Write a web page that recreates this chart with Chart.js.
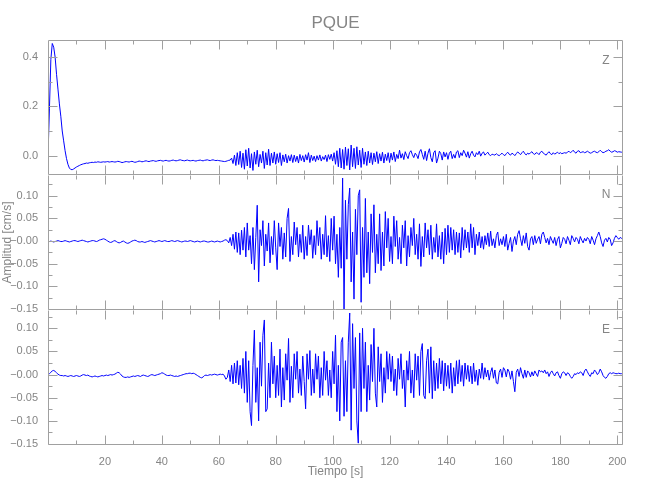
<!DOCTYPE html>
<html>
<head>
<meta charset="utf-8">
<title>PQUE</title>
<script src="https://cdn.jsdelivr.net/npm/chart.js@4"></script>
<style>
  body { margin: 0; background: #fff; }
  #wrap { position: relative; width: 650px; height: 500px; }
  #wrap canvas { position: absolute; left: 0; }
</style>
</head>
<body>
<div id="wrap">
  <canvas id="chZ" width="650" height="200" style="top:0px"></canvas>
  <canvas id="chN" width="650" height="185" style="top:150px"></canvas>
  <canvas id="chE" width="650" height="215" style="top:285px"></canvas>
</div>
<script>
const station = 'PQUE';
const t0 = 0;     // s, first sample
const dt = 0.5;   // s, sample interval of the traces

// velocity, cm/s
const traceZ = [
  0.000, 0.190, 0.390, 0.455, 0.440, 0.400, 0.330, 0.270, 0.210, 0.160, 0.100, 0.060, 0.020, -0.012, -0.035, -0.050, -0.056, -0.057, -0.054, -0.050,
  -0.046, -0.043, -0.040, -0.037, -0.035, -0.033, -0.032, -0.030, -0.031, -0.029, -0.028, -0.027, -0.028, -0.026, -0.027, -0.025, -0.026, -0.027, -0.026, -0.025,
  -0.026, -0.025, -0.024, -0.026, -0.025, -0.024, -0.025, -0.026, -0.025, -0.023, -0.024, -0.026, -0.028, -0.027, -0.025, -0.024, -0.025, -0.026, -0.024, -0.023,
  -0.025, -0.027, -0.026, -0.024, -0.022, -0.023, -0.025, -0.024, -0.022, -0.021, -0.023, -0.024, -0.022, -0.021, -0.020, -0.022, -0.023, -0.021, -0.020, -0.019,
  -0.021, -0.022, -0.020, -0.019, -0.021, -0.022, -0.021, -0.019, -0.018, -0.020, -0.021, -0.020, -0.018, -0.017, -0.019, -0.020, -0.021, -0.019, -0.018, -0.020,
  -0.021, -0.020, -0.019, -0.021, -0.022, -0.020, -0.019, -0.018, -0.020, -0.021, -0.019, -0.018, -0.017, -0.019, -0.020, -0.018, -0.017, -0.019, -0.020, -0.019,
  -0.020, -0.021, -0.022, -0.023, -0.024, -0.023, -0.021, -0.019, -0.018, -0.010, -0.032, 0.002, -0.040, 0.012, -0.036, 0.018, -0.048, 0.010, -0.055, 0.024,
  -0.042, 0.030, -0.050, 0.008, -0.060, 0.015, -0.035, 0.022, -0.045, 0.005, -0.030, 0.018, -0.052, 0.012, -0.038, 0.026, -0.040, 0.010, -0.030, 0.015,
  -0.035, 0.008, -0.028, 0.012, -0.040, 0.003, -0.025, 0.006, -0.030, 0.000, -0.022, 0.004, -0.028, 0.002, -0.024, -0.002, -0.030, 0.005, -0.020, 0.000,
  -0.026, 0.004, -0.018, 0.012, -0.028, 0.002, -0.020, -0.002, -0.024, 0.000, -0.018, 0.003, -0.022, -0.004, -0.016, 0.002, -0.024, 0.004, -0.015, 0.006,
  -0.022, 0.012, -0.035, 0.020, -0.045, 0.030, -0.050, 0.025, -0.055, 0.035, -0.040, 0.028, -0.058, 0.043, -0.045, 0.030, -0.052, 0.036, -0.038, 0.022,
  -0.048, 0.030, -0.035, 0.015, -0.040, 0.018, -0.030, 0.012, -0.036, 0.010, -0.025, 0.016, -0.032, 0.008, -0.022, 0.014, -0.030, 0.006, -0.020, 0.012,
  -0.028, 0.010, -0.018, 0.015, -0.024, 0.005, -0.012, 0.022, -0.010, 0.008, -0.016, 0.016, 0.000, -0.012, 0.012, 0.020, 0.004, -0.008, 0.010, 0.002,
  -0.012, 0.015, 0.025, 0.005, -0.015, 0.018, -0.020, 0.010, 0.028, -0.008, -0.025, 0.012, 0.020, -0.030, -0.010, 0.018, 0.008, -0.018, 0.015, -0.005,
  0.012, -0.015, 0.010, 0.018, -0.012, 0.005, -0.010, 0.015, 0.020, -0.008, 0.012, 0.000, 0.022, 0.010, -0.006, 0.016, -0.010, 0.008, 0.018, 0.002,
  -0.005, 0.012, 0.004, 0.018, -0.002, 0.010, 0.015, 0.002, 0.008, 0.014, 0.004, 0.000, 0.006, 0.004, 0.002, 0.008, 0.003, 0.000, 0.005, 0.010,
  0.004, 0.000, 0.008, 0.014, 0.006, 0.002, 0.010, 0.006, 0.000, 0.008, 0.015, 0.010, 0.004, 0.012, 0.018, 0.008, 0.003, 0.010, 0.006, 0.012,
  0.016, 0.008, 0.005, 0.012, 0.010, 0.004, 0.014, 0.018, 0.010, 0.006, 0.002, 0.010, 0.016, 0.008, 0.004, 0.012, 0.006, 0.010, 0.014, 0.008,
  0.012, 0.008, 0.010, 0.012, 0.010, 0.014, 0.018, 0.012, 0.016, 0.022, 0.014, 0.010, 0.018, 0.020, 0.012, 0.014, 0.016, 0.012, 0.014, 0.018,
  0.014, 0.010, 0.012, 0.016, 0.018, 0.014, 0.012, 0.016, 0.022, 0.016, 0.012, 0.014, 0.018, 0.020, 0.024, 0.018, 0.014, 0.016, 0.020, 0.018,
  0.014, 0.016, 0.015, 0.014, 0.015
];

const traceN = [
  0.000, -0.001, 0.000, -0.001, -0.002, -0.001, 0.000, 0.001, 0.000, -0.001, -0.001, 0.000, 0.001, 0.000, -0.001, -0.002, -0.001, 0.000, 0.001, 0.001,
  0.000, -0.001, 0.000, 0.001, 0.002, 0.001, 0.000, -0.001, -0.002, -0.001, 0.000, 0.001, 0.001, 0.000, -0.001, 0.000, 0.002, 0.003, 0.004, 0.005,
  0.004, 0.002, 0.000, -0.002, -0.003, -0.002, 0.000, 0.001, -0.001, -0.003, -0.004, -0.003, -0.001, 0.000, -0.002, -0.004, -0.005, -0.004, -0.002, 0.000,
  0.001, 0.002, 0.001, -0.001, -0.002, -0.002, -0.001, -0.002, -0.003, -0.002, -0.001, 0.000, 0.001, 0.000, -0.001, -0.002, -0.001, 0.000, 0.001, 0.000,
  -0.001, 0.000, 0.001, 0.000, -0.001, -0.001, 0.000, 0.001, 0.000, -0.001, 0.000, 0.001, 0.000, -0.001, -0.002, -0.001, 0.000, 0.000, -0.001, 0.000,
  0.001, 0.000, -0.001, -0.002, -0.001, 0.000, -0.001, -0.002, -0.001, 0.000, 0.000, -0.001, -0.002, -0.002, -0.001, 0.000, -0.001, -0.002, -0.001, 0.000,
  -0.001, -0.002, -0.001, 0.000, 0.002, 0.003, 0.001, -0.004, 0.008, -0.010, 0.015, -0.018, 0.020, -0.025, 0.018, -0.030, 0.024, -0.020, 0.030, -0.035,
  0.040, -0.020, 0.012, -0.050, 0.030, -0.063, 0.008, 0.079, -0.090, 0.025, -0.010, 0.045, -0.055, 0.015, -0.022, 0.040, -0.048, 0.010, -0.030, 0.045,
  -0.015, -0.063, 0.040, -0.012, 0.030, -0.040, 0.018, -0.035, 0.050, 0.072, -0.045, 0.010, -0.030, 0.042, -0.008, 0.030, -0.035, 0.015, -0.025, 0.035,
  -0.040, 0.010, -0.032, 0.035, -0.008, 0.025, -0.038, 0.012, -0.030, 0.045, -0.010, 0.030, -0.040, 0.015, -0.030, 0.056, -0.035, 0.012, -0.045, 0.050,
  -0.020, 0.055, -0.050, 0.015, -0.080, 0.030, -0.060, 0.139, -0.150, 0.090, -0.040, 0.080, 0.117, -0.090, 0.020, -0.128, 0.070, -0.030, 0.100, 0.113,
  -0.135, 0.030, -0.080, 0.094, -0.070, 0.020, -0.094, 0.060, -0.025, 0.080, -0.070, 0.015, -0.050, 0.060, -0.065, 0.020, -0.055, 0.065, -0.015, 0.050,
  -0.045, 0.010, -0.050, 0.055, -0.012, 0.045, -0.040, 0.008, -0.050, 0.035, -0.015, 0.045, -0.055, 0.012, -0.035, 0.030, -0.010, 0.050, -0.030, 0.015,
  -0.040, 0.038, -0.056, 0.010, -0.035, 0.040, -0.015, 0.025, -0.030, 0.035, -0.040, 0.008, -0.025, 0.038, -0.035, 0.012, -0.040, 0.020, -0.050, 0.028,
  -0.030, 0.035, -0.025, 0.030, -0.020, 0.025, -0.030, 0.020, -0.025, 0.018, -0.037, 0.030, -0.020, 0.025, -0.015, 0.020, -0.025, 0.038, -0.015, 0.030,
  -0.030, 0.015, -0.010, 0.020, -0.015, 0.010, -0.018, 0.012, -0.008, 0.018, -0.012, 0.022, -0.010, 0.005, -0.015, 0.012, 0.020, -0.010, 0.005, -0.008,
  0.010, -0.012, 0.015, -0.020, -0.005, 0.008, -0.023, 0.000, 0.010, -0.008, 0.015, 0.023, 0.005, -0.010, 0.012, -0.005, 0.018, -0.012, -0.020, 0.005,
  0.010, -0.008, 0.012, -0.005, 0.004, 0.010, -0.006, 0.015, 0.020, 0.008, -0.004, 0.006, -0.008, 0.010, 0.002, -0.005, 0.008, -0.010, 0.004, 0.010,
  -0.015, -0.005, 0.008, 0.004, -0.006, 0.010, 0.002, -0.008, 0.012, 0.006, -0.002, 0.008, 0.004, -0.006, 0.010, 0.002, -0.004, 0.006, 0.000, 0.008,
  0.004, -0.006, 0.010, 0.002, -0.008, 0.005, 0.012, 0.020, 0.010, -0.004, -0.012, 0.002, 0.006, -0.002, 0.008, 0.004, -0.010, -0.004, 0.006, 0.012,
  0.008, 0.004, 0.008, 0.006, 0.008
];

const traceE = [
  0.000, 0.002, 0.005, 0.008, 0.009, 0.007, 0.004, 0.001, -0.001, -0.002, -0.002, -0.003, -0.002, -0.003, -0.004, -0.003, -0.002, -0.003, -0.004, -0.003,
  -0.002, -0.003, -0.004, -0.003, -0.001, 0.000, -0.001, -0.002, -0.001, -0.003, -0.004, -0.005, -0.004, -0.003, -0.004, -0.005, -0.004, -0.003, -0.002, -0.003,
  -0.002, -0.001, -0.002, -0.001, 0.000, -0.001, 0.000, 0.001, 0.003, 0.005, 0.004, 0.001, -0.003, -0.005, -0.006, -0.006, -0.005, -0.006, -0.005, -0.004,
  -0.003, -0.004, -0.003, -0.002, -0.003, -0.004, -0.002, -0.001, -0.002, -0.003, -0.004, -0.003, -0.001, 0.000, -0.001, -0.002, -0.001, 0.000, 0.001, 0.002,
  0.004, 0.003, 0.001, -0.001, -0.002, -0.002, -0.001, -0.002, -0.003, -0.004, -0.003, -0.004, -0.003, -0.002, -0.001, 0.000, 0.001, 0.002, 0.002, 0.003,
  0.003, 0.002, 0.003, 0.002, 0.000, -0.002, -0.004, -0.006, -0.007, -0.005, -0.002, -0.001, -0.002, -0.001, 0.000, -0.001, 0.000, 0.001, 0.000, -0.001,
  0.000, 0.001, 0.000, 0.001, -0.003, -0.010, -0.006, 0.010, -0.015, 0.020, -0.020, 0.025, -0.018, 0.030, -0.022, 0.020, -0.030, 0.035, -0.040, 0.050,
  -0.060, 0.030, -0.080, -0.110, 0.020, 0.096, -0.060, 0.015, -0.100, 0.070, -0.025, 0.085, 0.118, -0.080, -0.074, 0.025, -0.050, 0.070, -0.020, 0.040,
  -0.050, 0.020, -0.045, 0.055, -0.070, 0.015, -0.055, 0.045, -0.012, 0.078, -0.060, 0.018, -0.050, 0.045, -0.010, 0.050, -0.040, 0.012, -0.045, 0.040,
  -0.015, -0.074, 0.045, -0.010, 0.052, -0.045, 0.012, -0.040, 0.045, -0.010, 0.040, -0.050, 0.015, -0.045, 0.050, -0.012, 0.030, -0.045, 0.010, -0.050,
  0.050, -0.020, 0.085, -0.080, 0.020, -0.100, 0.070, 0.080, -0.090, 0.030, -0.080, 0.070, 0.133, -0.120, 0.110, -0.030, 0.080, -0.100, -0.148, 0.090,
  -0.080, 0.100, -0.030, 0.070, -0.080, 0.020, -0.055, 0.065, -0.015, 0.100, -0.040, -0.070, 0.060, -0.015, 0.045, -0.060, 0.015, -0.040, 0.050, -0.010,
  0.045, -0.015, 0.040, -0.035, 0.012, -0.045, 0.035, -0.010, 0.045, -0.030, 0.010, -0.070, 0.030, -0.012, 0.050, -0.040, 0.010, -0.050, 0.045, -0.012,
  0.040, -0.045, 0.050, 0.067, -0.045, -0.052, 0.030, 0.055, -0.040, 0.060, -0.052, 0.030, -0.035, 0.025, -0.030, 0.035, -0.020, 0.030, -0.035, 0.025,
  -0.025, 0.020, -0.030, 0.025, -0.040, 0.015, -0.025, 0.030, -0.020, 0.032, -0.015, 0.020, -0.025, 0.025, -0.010, 0.020, -0.015, 0.018, -0.020, 0.025,
  -0.015, 0.010, -0.023, 0.012, -0.008, 0.025, -0.010, 0.015, -0.005, 0.010, -0.012, 0.005, 0.015, -0.008, 0.010, -0.018, -0.020, 0.005, 0.012, -0.006,
  0.015, 0.010, -0.005, 0.012, 0.006, -0.010, 0.008, -0.015, -0.037, 0.005, 0.012, -0.004, 0.015, 0.002, -0.008, 0.010, -0.006, 0.008, 0.004, -0.005,
  0.006, -0.003, 0.008, 0.002, -0.004, 0.010, 0.006, 0.008, 0.004, 0.010, 0.002, 0.006, -0.004, 0.004, 0.008, 0.002, -0.003, 0.004, 0.006, -0.002,
  -0.008, 0.002, 0.006, 0.004, -0.002, 0.004, 0.002, -0.004, -0.008, -0.004, 0.002, 0.000, 0.004, 0.002, 0.006, 0.004, -0.002, 0.008, 0.012, 0.006,
  0.000, -0.004, 0.004, 0.002, 0.010, 0.006, 0.000, 0.004, 0.012, 0.006, -0.002, -0.006, -0.008, -0.004, 0.002, 0.004, 0.002, 0.004, 0.003, 0.002,
  0.002, 0.003, 0.002, 0.002, 0.002
];

// axes
const timeRange = [0, 202];
const timeTicks = [20, 40, 60, 80, 100, 120, 140, 160, 180, 200];
const timeLabels = ['20', '40', '60', '80', '100', '120', '140', '160', '180', '200'];
const timeMinor = [10, 30, 50, 70, 90, 110, 130, 150, 170, 190];
const zRange = [-0.0785, 0.4675];
const zTicks = [0, 0.2, 0.4];
const zLabels = ['0.0', '0.2', '0.4'];
const zMinor = [0.1, 0.3];
const nRange = [-0.152, 0.1457];
const eRange = [-0.152, 0.1395];
const hTicks = [-0.15, -0.10, -0.05, 0, 0.05, 0.10];
const hLabels = ['\u22120.15', '\u22120.10', '\u22120.05', '\u22120.00', '0.05', '0.10'];
const hMinor = [-0.125, -0.075, -0.025, 0.025, 0.075, 0.125];

const GREY = '#858585';
const FRAME = '#a0a0a0';
const FAMILY = "'Liberation Sans Narrow', 'Liberation Sans', sans-serif";

// IDL-like box with inward ticks on all four sides + channel letter
const frame = {
  id: 'frame',
  afterDatasetsDraw(chart, args, o) {
    const {ctx, chartArea: a} = chart;
    const xs = chart.scales.x, ys = chart.scales.y;
    const L = Math.round(a.left) + 0.5, R = Math.round(a.right) - 0.5;
    const T = Math.round(a.top) + 0.5, B = Math.round(a.bottom) - 0.5;
    ctx.save();
    ctx.strokeStyle = FRAME;
    ctx.lineWidth = 1;
    ctx.beginPath();
    if (o.top) { ctx.moveTo(L, T); ctx.lineTo(R, T); }
    ctx.moveTo(R, T); ctx.lineTo(R, B); ctx.lineTo(L, B); ctx.lineTo(L, T);
    const vt = (list, len) => list.forEach(v => {
      const p = Math.round(xs.getPixelForValue(v)) + 0.5;
      ctx.moveTo(p, B); ctx.lineTo(p, B - len);
      ctx.moveTo(p, T); ctx.lineTo(p, T + len);
    });
    const ht = (list, len) => list.forEach(v => {
      const p = Math.round(ys.getPixelForValue(v)) + 0.5;
      ctx.moveTo(L, p); ctx.lineTo(L + len, p);
      ctx.moveTo(R, p); ctx.lineTo(R - len, p);
    });
    vt(timeTicks, 9); vt(timeMinor, 4);
    ht(o.major, 9); ht(o.minor, 4);
    ctx.stroke();
    ctx.fillStyle = GREY;
    ctx.font = '12px ' + FAMILY;
    ctx.textAlign = 'center';
    ctx.textBaseline = 'middle';
    ctx.fillText(o.label, a.right - 17, a.top + 20);
    ctx.restore();
  }
};

function toPoints(trace) {
  return trace.map((v, i) => ({x: t0 + i * dt, y: v}));
}

function panel(id, trace, cfg) {
  const yOpts = {
    type: 'linear',
    min: cfg.range[0],
    max: cfg.range[1],
    afterFit: s => { s.width = 48; },
    afterBuildTicks: s => { s.ticks = cfg.major.map(v => ({value: v})); },
    grid: {display: false},
    border: {display: false},
    ticks: {
      autoSkip: false,
      padding: 2,
      color: GREY,
      font: {family: FAMILY, size: 11},
      callback: (v, i) => cfg.labels[i]
    }
  };
  if (cfg.yTitle) {
    yOpts.title = {display: true, text: cfg.yTitle, color: GREY, padding: 0,
                   font: {family: FAMILY, size: 12}};
  }
  const xOpts = {
    type: 'linear',
    min: timeRange[0],
    max: timeRange[1],
    display: !!cfg.xAxis
  };
  if (cfg.xAxis) {
    Object.assign(xOpts, {
      afterFit: s => { s.height = 34; },
      afterBuildTicks: s => { s.ticks = timeTicks.map(v => ({value: v})); },
      grid: {display: false},
      border: {display: false},
      ticks: {
        autoSkip: false, maxRotation: 0, padding: 2,
        color: GREY,
        font: {family: FAMILY, size: 11},
        callback: (v, i) => timeLabels[i]
      },
      title: {display: true, text: 'Tiempo [s]', color: GREY, padding: 0,
              font: {family: FAMILY, size: 12}}
    });
  }
  return new Chart(document.getElementById(id), {
    type: 'line',
    data: {
      datasets: [{
        data: toPoints(trace),
        borderColor: '#0000ff',
        borderWidth: 1,
        pointRadius: 0,
        tension: 0,
        fill: false
      }]
    },
    options: {
      responsive: false,
      animation: false,
      events: [],
      layout: {padding: cfg.padding},
      scales: {x: xOpts, y: yOpts},
      plugins: {
        legend: {display: false},
        tooltip: {enabled: false},
        title: cfg.title ? {
          display: true, text: cfg.title, fullSize: false, color: GREY,
          font: {family: FAMILY, size: 17, weight: 'normal'},
          padding: {top: 13, bottom: 7}
        } : {display: false},
        frame: {label: cfg.label, major: cfg.major, minor: cfg.minor, top: cfg.top}
      }
    },
    plugins: [frame]
  });
}

panel('chZ', traceZ, {
  label: 'Z', title: station, range: zRange, major: zTicks, labels: zLabels, minor: zMinor,
  top: true, padding: {left: 0, right: 27, top: 0, bottom: 25}
});
panel('chN', traceN, {
  label: 'N', yTitle: 'Amplitud [cm/s]', range: nRange, major: hTicks, labels: hLabels, minor: hMinor,
  top: false, padding: {left: 0, right: 27, top: 25, bottom: 25}
});
panel('chE', traceE, {
  label: 'E', range: eRange, major: hTicks, labels: hLabels, minor: hMinor, xAxis: true,
  top: false, padding: {left: 0, right: 27, top: 25, bottom: 21}
});
</script>
</body>
</html>
